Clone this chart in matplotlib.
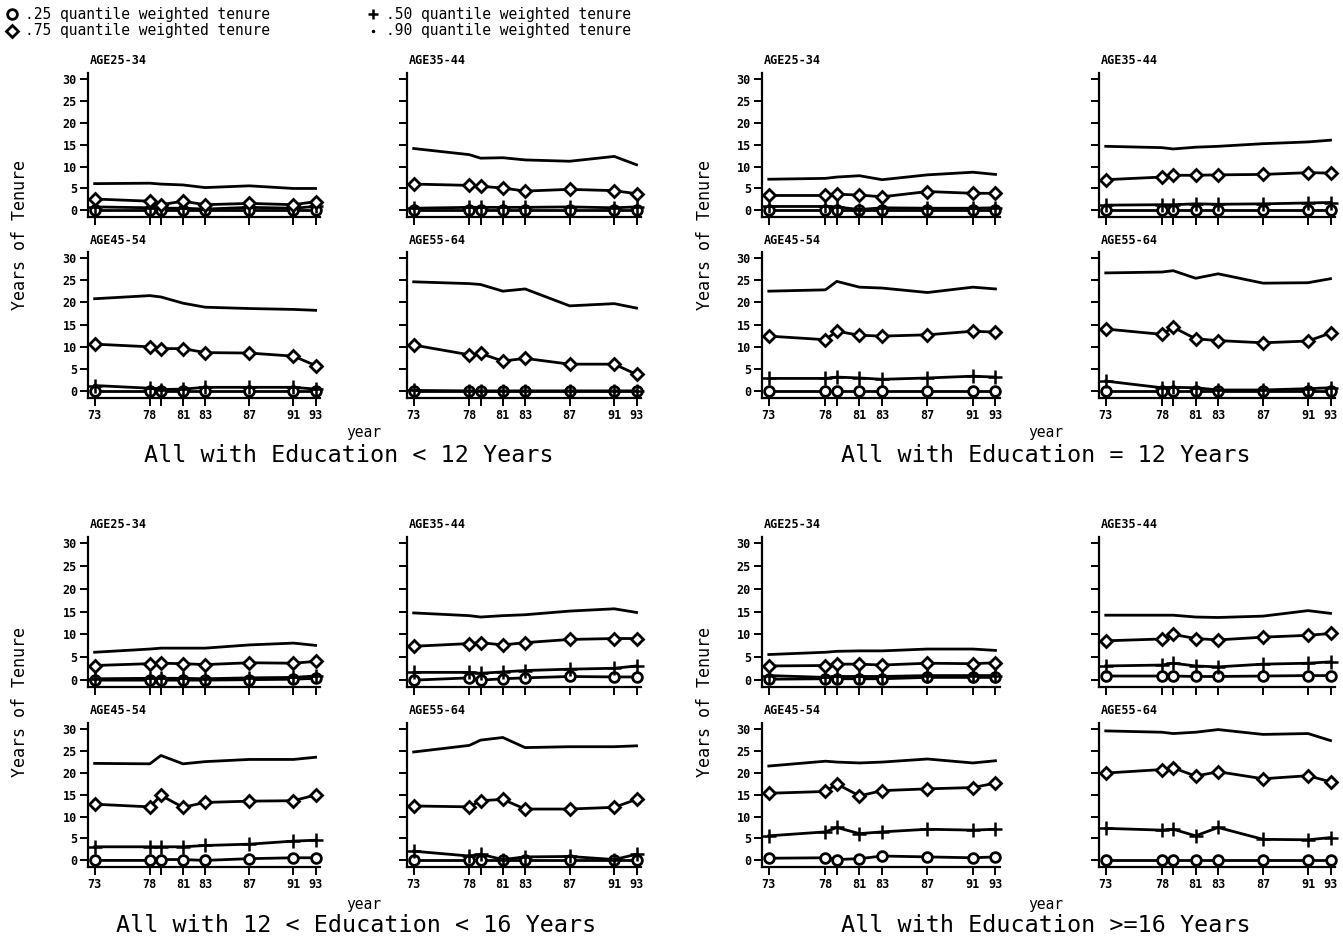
import numpy as np
import matplotlib.pyplot as plt

# tenure quantiles by survey year, age band and schooling
years       = [73, 78, 79, 81, 83, 87, 91, 93]
year_labels = ['73', '78', '', '81', '83', '87', '91', '93']
ages        = ['AGE25-34', 'AGE35-44', 'AGE45-54', 'AGE55-64']
groups      = ['All with Education < 12 Years',
               'All with Education = 12 Years',
               'All with 12 < Education < 16 Years',
               'All with Education >=16 Years']

# each list: rows are the age bands in the order of `ages`
q25_lt12 = [[0.0, 0.0, 0.0, 0.0, 0.0, 0.0, 0.0, 0.0],
            [0.0, 0.0, 0.0, 0.0, 0.0, 0.0, 0.0, 0.0],
            [0.0, 0.0, 0.0, 0.0, 0.0, 0.0, 0.0, 0.0],
            [0.0, 0.0, 0.0, 0.0, 0.0, 0.0, 0.0, 0.0]]
q50_lt12 = [[0.8, 0.6, 0.5, 0.5, 0.3, 0.7, 0.5, 0.9],
            [0.5, 0.7, 0.7, 0.7, 0.7, 0.8, 0.6, 0.8],
            [1.3, 0.7, 0.4, 0.5, 0.9, 0.9, 0.9, 0.5],
            [0.2, 0.1, 0.1, 0.1, 0.1, 0.1, 0.1, 0.1]]
q75_lt12 = [[2.6, 2.1, 1.3, 2.1, 1.3, 1.6, 1.3, 2.0],
            [6.0, 5.7, 5.5, 5.1, 4.4, 4.8, 4.5, 3.8],
            [10.6, 10.0, 9.6, 9.6, 8.7, 8.6, 7.9, 5.8],
            [10.4, 8.2, 8.5, 6.8, 7.4, 6.1, 6.1, 3.8]]
q90_lt12 = [[6.1, 6.2, 6.0, 5.8, 5.2, 5.6, 5.0, 5.0],
            [14.1, 12.7, 11.9, 12.0, 11.5, 11.2, 12.3, 10.4],
            [20.8, 21.5, 21.2, 19.8, 18.9, 18.6, 18.4, 18.2],
            [24.6, 24.2, 24.0, 22.5, 23.0, 19.2, 19.7, 18.7]]

q25_eq12 = [[0.0, 0.0, 0.0, 0.0, 0.0, 0.0, 0.0, 0.0],
            [0.0, 0.0, 0.0, 0.0, 0.0, 0.0, 0.0, 0.0],
            [0.0, 0.0, 0.0, 0.0, 0.0, 0.0, 0.0, 0.0],
            [0.0, 0.0, 0.0, 0.0, 0.0, 0.0, 0.0, 0.0]]
q50_eq12 = [[0.9, 0.9, 0.8, 0.2, 0.6, 0.5, 0.5, 0.6],
            [1.2, 1.3, 1.3, 1.5, 1.4, 1.5, 1.7, 1.8],
            [2.9, 2.9, 3.2, 3.0, 2.7, 3.0, 3.4, 3.2],
            [2.3, 0.8, 0.9, 0.8, 0.3, 0.3, 0.6, 0.8]]
q75_eq12 = [[3.4, 3.4, 3.7, 3.5, 3.1, 4.3, 3.9, 3.9],
            [7.0, 7.6, 8.0, 8.0, 8.1, 8.2, 8.6, 8.5],
            [12.4, 11.6, 13.5, 12.6, 12.4, 12.7, 13.5, 13.3],
            [14.0, 12.8, 14.4, 11.8, 11.4, 10.9, 11.3, 13.1]]
q90_eq12 = [[7.1, 7.3, 7.6, 7.9, 7.0, 8.1, 8.7, 8.2],
            [14.6, 14.3, 14.0, 14.4, 14.6, 15.2, 15.6, 16.0],
            [22.5, 22.8, 24.7, 23.4, 23.2, 22.2, 23.4, 23.0],
            [26.6, 26.8, 27.1, 25.4, 26.4, 24.3, 24.4, 25.3]]

q25_mid = [[0.0, 0.0, 0.0, 0.0, 0.0, 0.1, 0.2, 0.4],
           [0.0, 0.5, 0.0, 0.3, 0.5, 0.8, 0.7, 0.7],
           [0.0, 0.0, 0.2, 0.2, 0.0, 0.4, 0.6, 0.6],
           [0.0, 0.0, 0.0, 0.0, 0.0, 0.0, 0.0, 0.0]]
q50_mid = [[0.3, 0.4, 0.4, 0.4, 0.3, 0.5, 0.6, 0.9],
           [1.7, 1.7, 1.5, 1.8, 2.1, 2.4, 2.6, 3.1],
           [3.1, 3.1, 3.1, 3.1, 3.4, 3.7, 4.4, 4.6],
           [2.1, 1.0, 1.4, 0.2, 0.8, 0.9, 0.2, 1.4]]
q75_mid = [[3.2, 3.6, 3.7, 3.6, 3.4, 3.8, 3.7, 4.1],
           [7.4, 8.0, 8.2, 7.7, 8.2, 8.9, 9.1, 9.1],
           [12.8, 12.2, 14.8, 12.1, 13.2, 13.5, 13.6, 14.9],
           [12.4, 12.2, 13.6, 13.9, 11.7, 11.7, 12.1, 13.9]]
q90_mid = [[6.1, 6.8, 7.0, 7.0, 7.0, 7.7, 8.1, 7.6],
           [14.7, 14.1, 13.8, 14.1, 14.3, 15.1, 15.6, 14.8],
           [22.1, 22.0, 23.9, 22.0, 22.5, 23.0, 23.0, 23.5],
           [24.7, 26.2, 27.4, 28.0, 25.7, 25.9, 25.9, 26.1]]

q25_ge16 = [[0.2, 0.3, 0.3, 0.3, 0.3, 0.6, 0.6, 0.6],
            [0.9, 0.9, 0.9, 0.8, 0.8, 0.9, 1.0, 1.0],
            [0.5, 0.6, 0.2, 0.4, 1.0, 0.8, 0.6, 0.8],
            [0.0, 0.0, 0.0, 0.0, 0.0, 0.0, 0.0, 0.0]]
q50_ge16 = [[1.0, 0.6, 0.8, 0.8, 0.8, 1.0, 1.0, 1.0],
            [3.1, 3.3, 3.7, 3.1, 2.9, 3.5, 3.7, 4.0],
            [5.6, 6.5, 7.5, 6.1, 6.5, 7.1, 6.9, 7.1],
            [7.3, 6.9, 7.1, 5.6, 7.5, 4.8, 4.7, 5.2]]
q75_ge16 = [[3.1, 3.2, 3.5, 3.5, 3.3, 3.7, 3.6, 3.8],
            [8.6, 9.0, 10.0, 9.1, 8.8, 9.4, 9.8, 10.2],
            [15.3, 15.7, 17.4, 14.7, 15.9, 16.3, 16.6, 17.6],
            [19.9, 20.7, 21.1, 19.2, 20.2, 18.6, 19.3, 17.9]]
q90_ge16 = [[5.6, 6.1, 6.3, 6.4, 6.4, 6.8, 6.8, 6.5],
            [14.2, 14.2, 14.2, 13.8, 13.7, 14.0, 15.2, 14.6],
            [21.5, 22.6, 22.4, 22.2, 22.4, 23.1, 22.2, 22.7],
            [29.5, 29.2, 28.9, 29.2, 29.8, 28.7, 28.9, 27.3]]

data = [(q25_lt12, q50_lt12, q75_lt12, q90_lt12),
        (q25_eq12, q50_eq12, q75_eq12, q90_eq12),
        (q25_mid,  q50_mid,  q75_mid,  q90_mid),
        (q25_ge16, q50_ge16, q75_ge16, q90_ge16)]

W, H = 1343, 942
fig = plt.figure(figsize=(W / 100.0, H / 100.0), dpi=100)
mono = 'DejaVu Sans Mono'

def fx(x):
    return x / float(W)

def fy(y):
    return 1.0 - y / float(H)

# panel geometry in pixels
group_cols = [[(88, 232), (407, 234)], [(762, 238), (1099, 236)]]
group_rows = [[(73, 217), (252, 398)], [(537, 687), (723, 867)]]
group_text = [(433, 455), (905, 926)]
year_mid   = [364, 1046]
title_mid  = [349, 1046, 356, 1046]

styles = [dict(marker='o', ms=7, mfc='white', mec='black', mew=2.0),
          dict(marker='+', ms=10, mec='black', mew=1.8),
          dict(marker='D', ms=6.5, mfc='white', mec='black', mew=2.0),
          dict(marker='', ms=0)]

for g in range(4):
    gr, gc = g // 2, g % 2
    for a in range(4):
        r, c = a // 2, a % 2
        x0, w = group_cols[gc][c]
        top, bot = group_rows[gr][r]
        ax = fig.add_axes([fx(x0), fy(bot), w / float(W), (bot - top) / float(H)])
        for q in range(4):
            ax.plot(years, data[g][q][a], color='black', lw=2.0,
                    zorder=3 + q, clip_on=False, **styles[q])
        ax.set_xlim(72.4, 93.4)
        ax.set_ylim(-1.5, 31.3)
        ax.set_yticks(range(0, 31, 5))
        ax.set_xticks(years)
        for side in ['top', 'right']:
            ax.spines[side].set_visible(False)
        for side in ['left', 'bottom']:
            ax.spines[side].set_linewidth(1.6)
        ax.tick_params(direction='out', length=6, width=1.4, pad=2,
                       labelsize=8.5)
        if c == 1:
            ax.set_yticklabels([])
        else:
            ax.set_yticklabels([str(v) for v in range(0, 31, 5)],
                               fontweight='bold', family=mono)
        if r == 0:
            ax.set_xticklabels([])
        else:
            ax.set_xticklabels(year_labels, fontweight='bold', family=mono)
        fig.text(fx(x0 + 2), fy(top - 12), ages[a], fontsize=8.5,
                 fontweight='bold', family=mono, va='center', ha='left')
    yr, tt = group_text[gr]
    fig.text(fx(year_mid[gc]), fy(yr), 'year', fontsize=10.5,
             family=mono, ha='center', va='center')
    fig.text(fx(title_mid[g]), fy(tt), groups[g], fontsize=16.8,
             family=mono, ha='center', va='center')
    ymid = (group_rows[gr][0][0] + group_rows[gr][1][1]) / 2.0
    fig.text(fx(20 if gc == 0 else 705), fy(ymid), 'Years of Tenure',
             rotation=90, fontsize=12, family=mono, ha='center', va='center')

# key at the top
key = [(12, 14, styles[0], '.25 quantile weighted tenure'),
       (12, 31, styles[2], '.75 quantile weighted tenure'),
       (373, 14, styles[1], '.50 quantile weighted tenure'),
       (373, 31, dict(marker='.', ms=3), '.90 quantile weighted tenure')]
for kx, ky, st, label in key:
    st = dict(st)
    st['ms'] = min(st['ms'], 7)
    fig.add_artist(plt.Line2D([fx(kx)], [fy(ky)], color='black',
                              transform=fig.transFigure, **st))
    fig.text(fx(kx + 13), fy(ky), label, fontsize=10.5, family=mono,
             ha='left', va='center')

plt.savefig('out.png', dpi=100)
plt.close()
